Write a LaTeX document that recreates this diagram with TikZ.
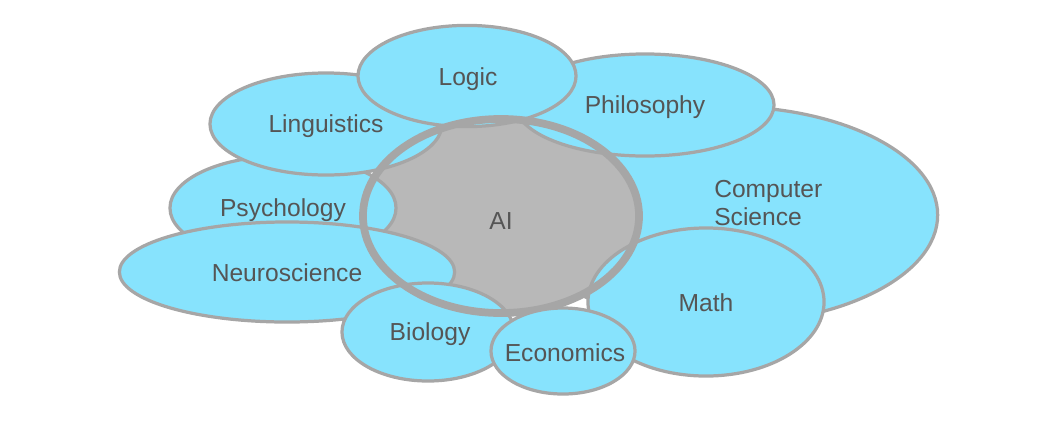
\documentclass[tikz,border=0pt]{standalone}
\usepackage{fontspec}
\setmainfont{Liberation Sans}
\usetikzlibrary{shapes.geometric}

\definecolor{fieldcyan}{HTML}{87E3FD}
\definecolor{edgegray}{HTML}{A6A6A6}
\definecolor{aigray}{HTML}{B8B8B8}
\definecolor{textgray}{HTML}{555555}

\begin{document}
\begin{tikzpicture}[x=0.025cm, y=-0.025cm,
    field/.style={ellipse, fill=fieldcyan, draw=edgegray, line width=2.3pt, inner sep=0pt},
    label/.style={text=textgray, inner sep=0pt, font=\fontsize{17.5}{20}\selectfont}]
    \useasboundingbox (0,0) rectangle (1037,422);
    % the field under the AI core
    \node[field, minimum width=10.63cm, minimum height=5.43cm] (cs) at (725,215) {};
    % AI core, fill only
    \node[ellipse, fill=aigray, inner sep=0pt, minimum width=6.9cm, minimum height=4.85cm] (aifill) at (501,216) {};
    % fields over the core
    \node[field, minimum width=5.65cm, minimum height=2.6cm] (psy) at (283,208) {};
    \node[label] (psylabel) at (283,210) {Psychology};
    \node[field, minimum width=8.38cm, minimum height=2.5cm] (neuro) at (287,272) {};
    \node[label] (neurolabel) at (287,273) {Neuroscience};
    \node[field, minimum width=5.8cm, minimum height=2.55cm] (ling) at (326,124) {};
    \node[label] (linglabel) at (326,126) {Linguistics};
    \node[field, minimum width=6.45cm, minimum height=2.55cm] (phil) at (645,105) {};
    \node[label] (phillabel) at (645,107) {Philosophy};
    \node[field, minimum width=5.45cm, minimum height=2.53cm] (logic) at (467,76) {};
    \node[label] (logiclabel) at (468,79) {Logic};
    \node[field, minimum width=5.9cm, minimum height=3.7cm] (math) at (706,302) {};
    \node[label] (mathlabel) at (706,303) {Math};
    \node[field, minimum width=4.3cm, minimum height=2.45cm] (bio) at (428,332) {};
    \node[label] (biolabel) at (430,334) {Biology};
    % AI ring
    \node[ellipse, draw=edgegray, line width=5.5pt, inner sep=0pt, minimum width=6.9cm, minimum height=4.85cm] (ai) at (501,216) {};
    \node[field, minimum width=3.6cm, minimum height=2.15cm] (econ) at (563,351) {};
    \node[label] (econlabel) at (565,353) {Economics};
    % texts on the core and the lower field
    \node[label] (ailabel) at (501,221) {AI};
    \node[label, anchor=west, align=left] (cslabel) at (714,203) {Computer\\Science};
\end{tikzpicture}
\end{document}
